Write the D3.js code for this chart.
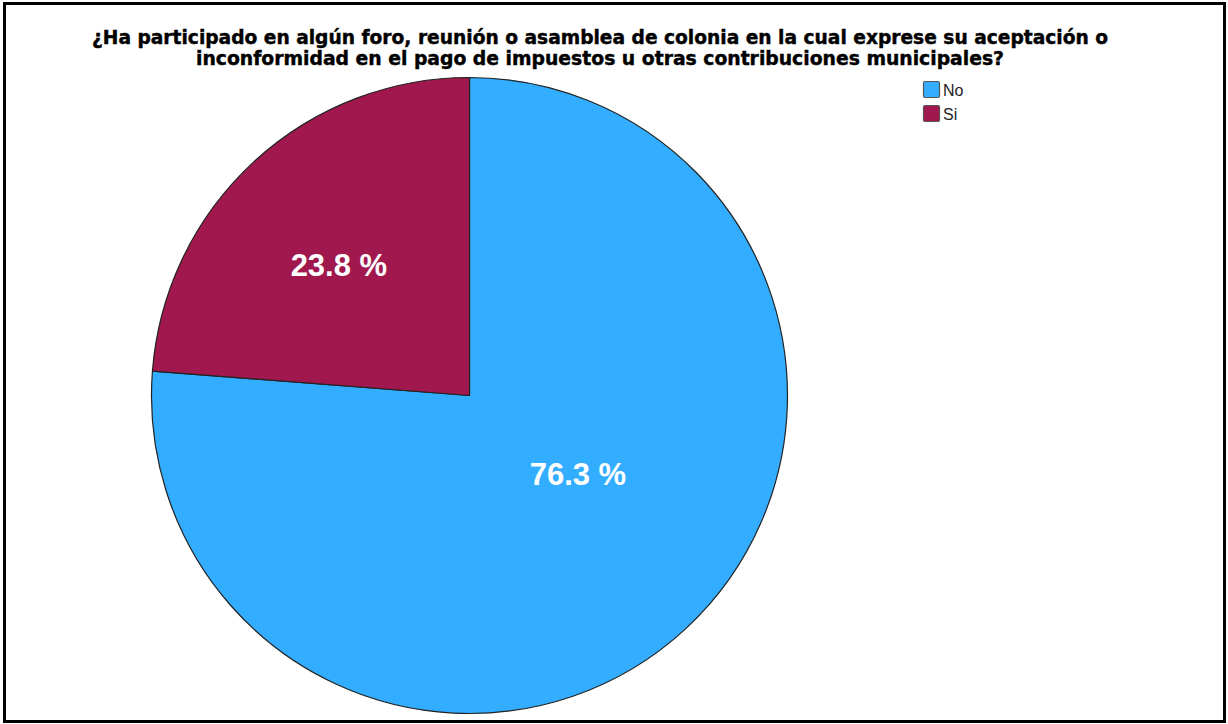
<!DOCTYPE html>
<html>
<head>
<meta charset="utf-8">
<script src="https://cdn.jsdelivr.net/npm/d3@7"></script>
<style>
  html, body { margin: 0; padding: 0; background: #fff; }
  svg { display: block; }
</style>
</head>
<body>
<svg id="chart" width="1228" height="724"></svg>
<script>
// Survey answers and their shares (percent)
const categories = ["No", "Si"];
const values = [76.3, 23.8];
const colors = ["#33adff", "#a0184d"];
const titleLines = [
  "¿Ha participado en algún foro, reunión o asamblea de colonia en la cual exprese su aceptación o",
  "inconformidad en el pago de impuestos u otras contribuciones municipales?"
];

const svg = d3.select("#chart");
const W = 1228, H = 724;

// outer frame
svg.append("rect")
  .attr("x", 4.5).attr("y", 3.5)
  .attr("width", W - 8).attr("height", H - 6)
  .attr("fill", "#fff")
  .attr("stroke", "#000")
  .attr("stroke-width", 3);

// title
const title = svg.append("g")
  .attr("font-family", "'DejaVu Sans Condensed', 'DejaVu Sans', sans-serif")
  .attr("font-weight", "bold")
  .attr("font-size", 19)
  .attr("fill", "#000")
  .attr("stroke", "#000")
  .attr("stroke-width", 0.4)
  .attr("text-anchor", "middle");
const titleWidths = [1016, 808];
titleLines.forEach((t, i) => {
  title.append("text")
    .attr("x", 600)
    .attr("y", 44 + i * 21)
    .attr("textLength", titleWidths[i])
    .attr("lengthAdjust", "spacingAndGlyphs")
    .text(t);
});

// pie
const cx = 469.5, cy = 395.5, R = 318;
const data = categories.map((c, i) => ({ category: c, value: values[i], color: colors[i] }));
const pie = d3.pie().sort(null).value(d => d.value);
const arcs = pie(data);
const arc = d3.arc().innerRadius(0).outerRadius(R);

const g = svg.append("g").attr("transform", `translate(${cx},${cy})`);
g.selectAll("path.slice")
  .data(arcs)
  .join("path")
  .attr("class", "slice")
  .attr("d", arc)
  .attr("fill", d => d.data.color)
  .attr("stroke", "#222")
  .attr("stroke-width", 1.2)
  .attr("stroke-linejoin", "round");

// value labels inside slices
const labelPlacement = { "No": { rf: 0.42, dA: -0.2 }, "Si": { rf: 0.58, dA: -0.04 } };
g.selectAll("text.val")
  .data(arcs)
  .join("text")
  .attr("class", "val")
  .attr("transform", d => {
    const p = labelPlacement[d.data.category];
    const a = (d.startAngle + d.endAngle) / 2 + p.dA;
    const r = R * p.rf;
    return `translate(${r * Math.sin(a)},${-r * Math.cos(a)})`;
  })
  .attr("text-anchor", "middle")
  .attr("dy", "0.36em")
  .attr("font-family", "'Liberation Sans', Arial, sans-serif")
  .attr("font-weight", "bold")
  .attr("font-size", 31)
  .attr("fill", "#fff")
  .text(d => d3.format(".1f")(d.data.value) + " %");

// legend
const legend = svg.append("g").attr("transform", "translate(923,81)");
const item = legend.selectAll("g")
  .data(data)
  .join("g")
  .attr("transform", (d, i) => `translate(0,${i * 24})`);
item.append("rect")
  .attr("x", 0.5).attr("y", 0.5)
  .attr("width", 16).attr("height", 16)
  .attr("rx", 1.5)
  .attr("fill", d => d.color)
  .attr("stroke", "#555")
  .attr("stroke-width", 1.2);
item.append("text")
  .attr("x", 20)
  .attr("y", 15)
  .attr("font-family", "'Liberation Sans', Arial, sans-serif")
  .attr("font-size", 16)
  .attr("fill", "#222")
  .text(d => d.category);
</script>
</body>
</html>
